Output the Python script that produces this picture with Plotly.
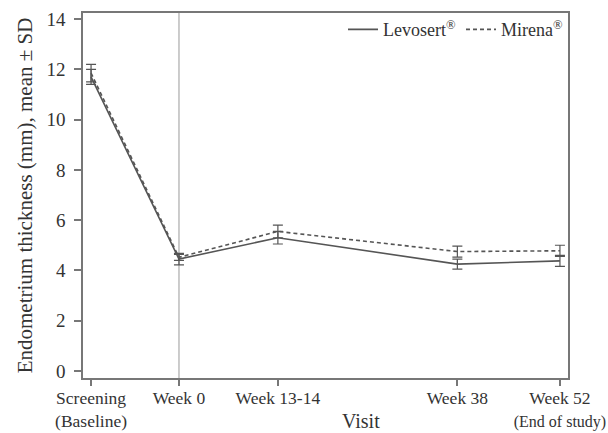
import plotly.graph_objects as go

visit_weeks = [-12, 0, 13.5, 38, 52]
visit_labels = ["Screening<br>(Baseline)", "Week 0", "Week 13-14", "Week 38",
                "Week 52<br><span style='font-size:16px'>(End of study)</span>"]

levosert_mean = [11.7, 4.45, 5.3, 4.25, 4.38]
levosert_sd = [0.3, 0.23, 0.25, 0.2, 0.22]
mirena_mean = [11.85, 4.52, 5.55, 4.75, 4.78]
mirena_sd = [0.35, 0.12, 0.25, 0.22, 0.22]

font_family = "'Liberation Serif', 'Times New Roman', serif"
line_col = "#555555"
text_col = "#333333"

fig = go.Figure()
fig.add_trace(go.Scatter(
    x=visit_weeks, y=levosert_mean, mode="lines", name="Levosert<sup>®</sup>",
    line=dict(color=line_col, width=1.6, dash="solid"),
    error_y=dict(type="data", array=levosert_sd, visible=True, color=line_col, thickness=1.2, width=5),
))
fig.add_trace(go.Scatter(
    x=visit_weeks, y=mirena_mean, mode="lines", name="Mirena<sup>®</sup>",
    line=dict(color=line_col, width=1.6, dash="4px,3px"),
    error_y=dict(type="data", array=mirena_sd, visible=True, color=line_col, thickness=1.2, width=5),
))

fig.add_shape(type="line", x0=0, x1=0, y0=0, y1=1, xref="x", yref="paper",
              line=dict(color="#bbbbbb", width=1.5), layer="below")

fig.add_annotation(text="Visit", x=0.573, xref="paper", y=-0.153, yref="paper",
                   xanchor="center", yanchor="bottom", showarrow=False,
                   font=dict(size=20, color=text_col, family=font_family))

fig.update_layout(
    width=608, height=433,
    margin=dict(l=83, r=40, t=13, b=55, autoexpand=False),
    paper_bgcolor="white", plot_bgcolor="white",
    font=dict(family=font_family, size=18, color=text_col),
    showlegend=True,
    legend=dict(orientation="h", x=1.0, xanchor="right", y=1.005, yanchor="top",
                bgcolor="rgba(0,0,0,0)", font=dict(size=18), itemwidth=30, tracegroupgap=0),
    xaxis=dict(
        range=[-13.1, 53.1], tickmode="array", tickvals=visit_weeks, ticktext=visit_labels,
        showgrid=False, zeroline=False, showline=True, mirror=True, linecolor="#777777", linewidth=1.5,
        ticks="outside", ticklen=6, tickcolor="#777777", tickwidth=1.5,
        tickfont=dict(size=17.5), ticklabeloverflow="allow", automargin=False,
        ticklabelstandoff=-3,
    ),
    yaxis=dict(
        range=[-0.28, 14.24], tickvals=[0, 2, 4, 6, 8, 10, 12, 14],
        showgrid=False, zeroline=False, showline=True, mirror=True, linecolor="#777777", linewidth=1.5,
        ticks="outside", ticklen=7, tickcolor="#777777", tickwidth=1.5,
        ticklabelstandoff=5, automargin=False,
        tickfont=dict(size=19),
        title=dict(text="Endometrium thickness (mm), mean ± SD", font=dict(size=21), standoff=8),
    ),
)

fig.write_html("out.html", config={"displayModeBar": False},
               post_script="document.body.style.margin='0';document.body.style.overflow='hidden';"
                           "document.documentElement.style.overflow='hidden';")
